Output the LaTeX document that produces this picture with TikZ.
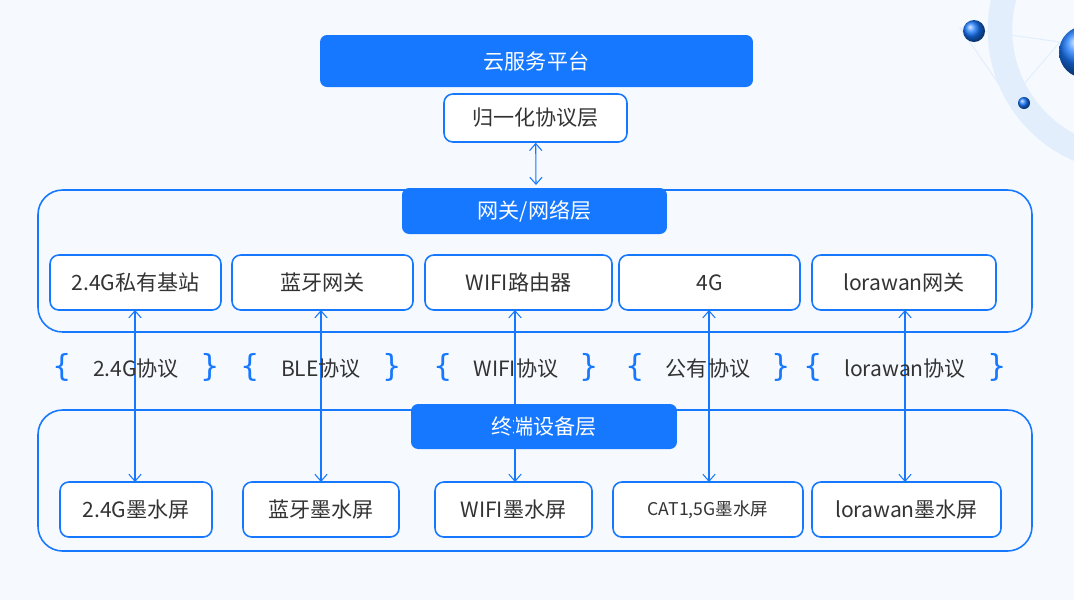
\documentclass[tikz,border=0pt]{standalone}
\usepackage{fontspec}
\setmainfont{Noto Sans CJK SC}
\usetikzlibrary{positioning,arrows.meta}
\definecolor{bluemain}{HTML}{1677FF}
\definecolor{textgray}{HTML}{333333}
\definecolor{bgcol}{HTML}{F6FAFF}
\definecolor{pale}{HTML}{E3EEFD}
\tikzset{
  headbox/.style={draw=none,fill=bluemain,rounded corners=4pt,text=white,font=\large},
  itembox/.style={draw=bluemain,line width=0.9pt,fill=white,rounded corners=5pt,text=textgray,font=\large},
  layerbox/.style={draw=bluemain,line width=0.9pt,rounded corners=14pt},
  link/.style={bluemain,line width=0.6pt,{Straight Barb[length=4pt,width=7pt]}-{Straight Barb[length=4pt,width=7pt]}},
  protlabel/.style={text=textgray,font=\large}
}
\newcommand{\brl}{{\color{bluemain}\fontspec{DejaVu Sans}\LARGE\{}}
\newcommand{\brr}{{\color{bluemain}\fontspec{DejaVu Sans}\LARGE\}}}
\begin{document}
\begin{tikzpicture}[x=0.02cm,y=-0.02cm]
\fill[bgcol] (0,0) rectangle (1074,600);
\useasboundingbox (0,0) rectangle (1074,600);
% decoration
\begin{scope}
\clip (0,0) rectangle (1074,600);
\draw[pale,line width=14pt] (1130,30) circle (130);
\draw[pale,line width=0.6pt] (960,28) -- (1060,42) -- (1010,100) -- cycle;
\shade[ball color=bluemain] (974,31) circle (11);
\shade[ball color=bluemain] (1024,103) circle (6);
\shade[ball color=bluemain] (1085,52) circle (26);
\end{scope}
% top
\node[headbox,minimum width=433\pgflinewidth] (cloud) at (536,61) {};
\node[headbox,minimum width=8.66cm,minimum height=1.04cm] (cloud) at (536.5,61) {云服务平台};
\node[itembox,minimum width=3.66cm,minimum height=0.96cm] (norm) at (535.5,118) {归一化协议层};
% layers
\draw[layerbox] (38,190) rectangle (1032,332);
\draw[layerbox] (38,410) rectangle (1032,551);
\node[headbox,minimum width=5.3cm,minimum height=0.92cm] (gwhead) at (534.5,211) {网关/网络层};
\coordinate (gwtop) at (536,185);
\draw[link] (norm) -- (gwtop);
% gateways
\foreach \n/\x/\w/\t in {g1/135.5/171/2.4G私有基站,g2/322.5/181/蓝牙网关,g3/518.5/187/WIFI路由器,g4/709.5/181/4G/5G基站,g5/904/184/lorawan网关}
  \node[itembox,minimum width=\w*0.02cm,minimum height=1.1cm] (\n) at (\x,282.5) {\t};
% terminals
\foreach \n/\x/\w/\t in {t1/136/152/2.4G墨水屏,t2/321/156/蓝牙墨水屏,t3/513.5/157/WIFI墨水屏,t4/708/190/{\normalsize CAT1,5G墨水屏},t5/906.5/189/lorawan墨水屏}
  \node[itembox,minimum width=\w*0.02cm,minimum height=1.1cm] (\n) at (\x,509.5) {\t};
\node[headbox,minimum width=5.32cm,minimum height=0.9cm] (tmhead) at (544,426.5) {终端设备层};
% links
\foreach \i/\x in {1/135,2/321,3/515,4/709,5/905}
  \draw[link] (\x,310) coordinate (a\i) -- (\x,482) coordinate (b\i);
% protocols
\foreach \n/\x/\t in {p1/136/2.4G协议,p2/321/BLE协议,p3/516/WIFI协议,p4/708/公有协议,p5/905/lorawan协议}
  \node[protlabel] (\n) at (\x,367) {\brl\quad\t\quad\brr};
\end{tikzpicture}
\end{document}
